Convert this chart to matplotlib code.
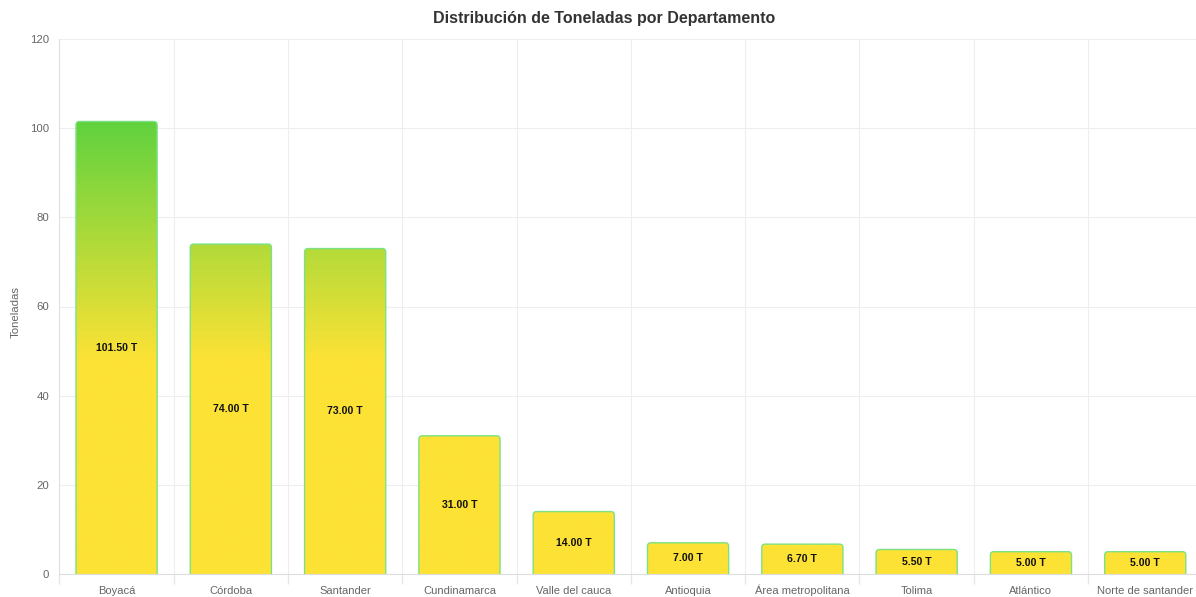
import numpy as np
import matplotlib.pyplot as plt
from matplotlib.patches import FancyBboxPatch
from matplotlib.colors import LinearSegmentedColormap

departamentos = ['Boyacá', 'Córdoba', 'Santander', 'Cundinamarca', 'Valle del cauca',
                 'Antioquia', 'Área metropolitana', 'Tolima', 'Atlántico', 'Norte de santander']
toneladas = [101.5, 74.0, 73.0, 31.0, 14.0, 7.0, 6.7, 5.5, 5.0, 5.0]
y_ticks = [0, 20, 40, 60, 80, 100, 120]

YELLOW = '#fde235'
GREEN = '#5fd23f'


def main():
    plt.rcParams['font.family'] = ['Liberation Sans', 'DejaVu Sans']

    fig = plt.figure(figsize=(11.96, 5.97), dpi=100)
    ax = fig.add_axes([59.4 / 1196, 23 / 597, 1143 / 1196, 535 / 597])

    n = len(departamentos)
    ax.set_xlim(-0.5, n - 0.5)
    ax.set_ylim(0, 120)

    # gradient: yellow below ~48 T, green at the top of the tallest bar
    cmap = LinearSegmentedColormap.from_list('yg', [YELLOW, GREEN])
    ys = np.linspace(0, 120, 600)
    t = np.clip((ys - 48) / (102 - 48), 0, 1).reshape(-1, 1)

    width = 0.71
    for i, v in enumerate(toneladas):
        x0 = i - width / 2
        patch = FancyBboxPatch((x0, -2), width, v + 2,
                               boxstyle='round,pad=0,rounding_size=0.03',
                               mutation_aspect=120 / 10 * 1143 / 535,
                               facecolor='none', edgecolor='#7be283', linewidth=1.0,
                               zorder=3)
        ax.add_patch(patch)
        im = ax.imshow(t, cmap=cmap, vmin=0, vmax=1, origin='lower', aspect='auto',
                       extent=(x0, x0 + width, 0, 120), zorder=2,
                       interpolation='bilinear')
        im.set_clip_path(patch)
        ax.text(i, v / 2, '{:.2f} T'.format(v), ha='center', va='center',
                fontsize=7.6, fontweight='bold', color='#111111', zorder=4)

    ax.set_xticks(np.arange(n))
    ax.set_xticklabels(departamentos, fontsize=8.0, color='#666666')
    for lbl in ax.get_xticklabels():
        lbl.set_verticalalignment('baseline')
    ax.set_xticks(np.arange(n + 1) - 0.5, minor=True)
    ax.tick_params(axis='x', which='major', length=0, pad=14.2)
    ax.tick_params(axis='x', which='minor', length=7, color='#e6e6e6', width=1)

    ax.set_yticks(y_ticks)
    ax.set_yticklabels([str(v) for v in y_ticks], fontsize=8.2, color='#666666')
    ax.tick_params(axis='y', length=0, pad=7.5)

    ax.grid(True, axis='y', color='#eeeeee', linewidth=0.8, zorder=0)
    ax.grid(True, axis='x', which='minor', color='#eeeeee', linewidth=0.8, zorder=0)
    ax.set_axisbelow(True)

    for side in ['top', 'right']:
        ax.spines[side].set_visible(False)
    ax.spines['left'].set_color('#e0e0e0')
    ax.spines['bottom'].set_color('#dddddd')

    ax.set_ylabel('Toneladas', fontsize=8.2, color='#666666')
    ax.yaxis.label.set_verticalalignment('center')
    ax.yaxis.set_label_coords((16 - 59.4) / 1143, 0.49)
    fig.text(604 / 1196, 1 - 19 / 597, 'Distribución de Toneladas por Departamento',
             ha='center', va='center', fontsize=11.5, fontweight='bold', color='#333333')

    fig.savefig('out.png', dpi=100)


if __name__ == '__main__':
    main()
